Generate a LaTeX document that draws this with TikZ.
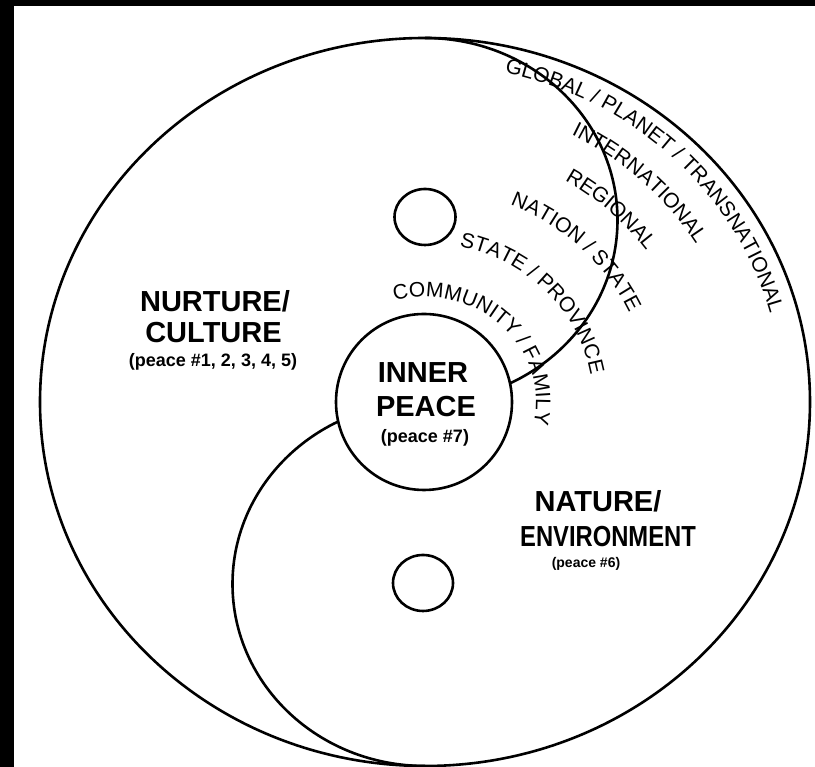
\documentclass[tikz,border=0pt]{standalone}
\usepackage{fontspec}
\setmainfont{Liberation Sans}
\usetikzlibrary{decorations.text}
\newcommand\myarcfont{\fontsize{21}{24}\selectfont}
\begin{document}
\begin{tikzpicture}[x=1pt,y=1pt,
  ln/.style={line width=2.6pt},
  biglbl/.style={font=\fontsize{29}{32}\selectfont\bfseries, inner sep=0pt, anchor=base},
  smalllbl/.style={font=\fontsize{18}{20}\selectfont\bfseries, inner sep=0pt, anchor=base},
  arctext/.style={decorate, decoration={text along path, text={|\myarcfont|#1}, text align=center}}
]
\useasboundingbox (0,0) rectangle (815,767);
\fill[white] (0,0) rectangle (815,767);
\fill[black] (0,0) rectangle (14,767);
\fill[black] (0,761) rectangle (815,767);
% outer ellipse
\draw[ln] (425,365) ellipse [x radius=385pt, y radius=364pt];
% S curve
\draw[ln] (425,729) arc[start angle=90, end angle=-90, x radius=192.5pt, y radius=182pt];
\draw[ln] (425,365) arc[start angle=90, end angle=270, x radius=192.5pt, y radius=182pt];
% inner peace circle
\draw[ln, fill=white] (424,365) circle[radius=88pt];
% small circles
\draw[ln] (425,550) ellipse [x radius=30.5pt, y radius=28pt];
\draw[ln] (423,184) ellipse [x radius=30pt, y radius=28pt];
% arc labels
\begin{scope}[shift={(425,365)}]
  \path[arctext={COMMUNITY / FAMILY}] (126.5:111pt and 105pt) arc[start angle=126.5, end angle=-33.5, x radius=111pt, y radius=105pt];
  \path[arctext={STATE / PROVINCE}] (123:168pt and 159pt) arc[start angle=123, end angle=-37, x radius=168pt, y radius=159pt];
  \path[arctext={NATION / STATE}] (125:225pt and 213pt) arc[start angle=125, end angle=-35, x radius=225pt, y radius=213pt];
  \path[arctext={REGIONAL}] (126:273pt and 258pt) arc[start angle=126, end angle=-34, x radius=273pt, y radius=258pt];
  \path[arctext={INTERNATIONAL}] (125.7:318.5pt and 301pt) arc[start angle=125.7, end angle=-34.3, x radius=318.5pt, y radius=301pt];
  \path[arctext={GLOBAL / PLANET / TRANSNATIONAL}] (125:357.6pt and 338pt) arc[start angle=125, end angle=-35, x radius=357.6pt, y radius=338pt];
\end{scope}
% labels
\node[biglbl] (nurture) at (215,455) {NURTURE/};
\node[biglbl] (culture) at (213.5,424) {CULTURE};
\node[smalllbl] (peaceA) at (213,400) {(peace \#1, 2, 3, 4, 5)};
\node[biglbl] (inner) at (423,384) {INNER};
\node[biglbl] (peace) at (426,350) {PEACE};
\node[smalllbl] (peaceB) at (425,324) {(peace \#7)};
\node[biglbl] (nature) at (598,255) {NATURE/};
\node[biglbl] (environ) at (608,220) {\scalebox{0.82}[1]{ENVIRONMENT}};
\node[smalllbl, font=\fontsize{14}{16}\selectfont\bfseries] (peaceC) at (586,199) {(peace \#6)};
\end{tikzpicture}
\end{document}
